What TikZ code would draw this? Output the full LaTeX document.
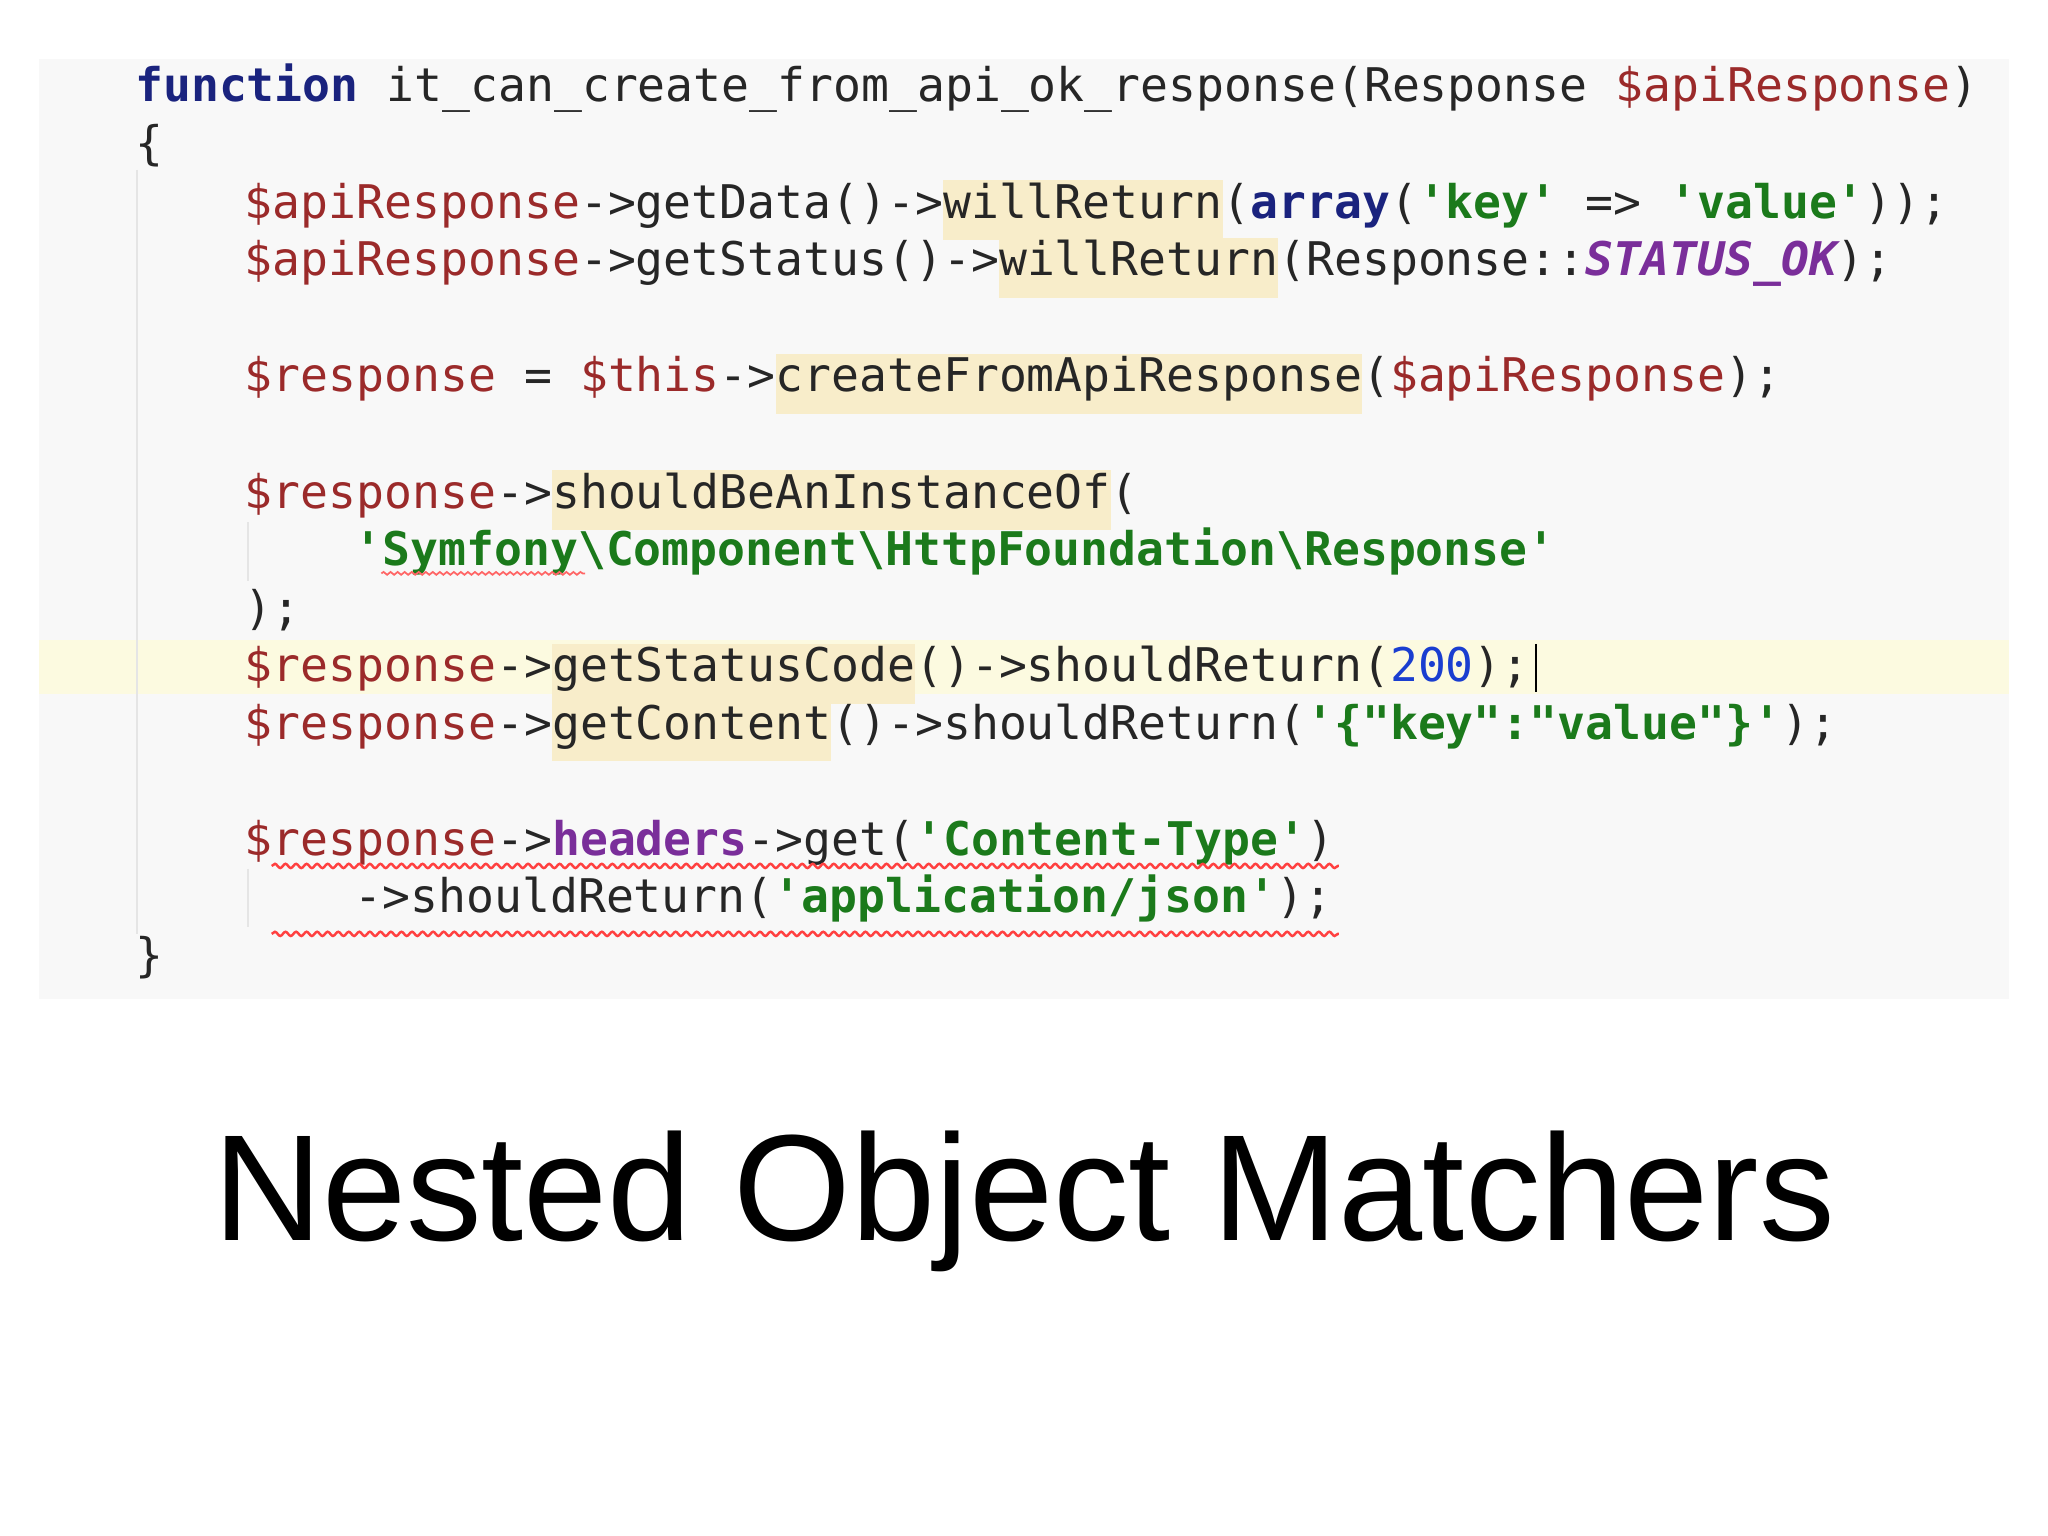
\documentclass[tikz,border=0pt]{standalone}
\usepackage{fontspec}
\setmainfont{Liberation Sans}
\setmonofont{DejaVu Sans Mono}
\usetikzlibrary{decorations.pathmorphing}
\definecolor{bgc}{HTML}{F8F8F8}
\definecolor{hlline}{HTML}{FCFAE0}
\definecolor{hly}{HTML}{F8EDCA}
\definecolor{varc}{HTML}{9B2A2A}
\definecolor{kwc}{HTML}{1A237E}
\definecolor{strc}{HTML}{1B7A1B}
\definecolor{cstc}{HTML}{7A2E9A}
\definecolor{numc}{HTML}{1A3ED0}
\newcommand{\kw}[1]{\textcolor{kwc}{\bfseries #1}}
\newcommand{\vr}[1]{\textcolor{varc}{#1}}
\newcommand{\str}[1]{\textcolor{strc}{\bfseries #1}}
\newcommand{\cst}[1]{\textcolor{cstc}{\bfseries\itshape #1}}
\newcommand{\hlt}[1]{{\setlength{\fboxsep}{0pt}\colorbox{hly}{\rule[-0.22cm]{0pt}{0.6cm}#1}}}
\tikzset{code/.style={anchor=base west,inner sep=0pt,font=\ttfamily\fontsize{13.2}{15}\selectfont,text=black!85}}
\begin{document}
\begin{tikzpicture}[x=0.013061cm,y=-0.013061cm]
\useasboundingbox (0,0) rectangle (1568,1176);
\fill[bgc] (30,45) rectangle (1538,765);
\fill[hlline] (30,490) rectangle (1538,531);
\draw[black!10] (105,130) -- (105,715);
\draw[black!10] (190,400) -- (190,445);
\draw[black!10] (190,665) -- (190,710);
\node[code] (l1) at (103,78) {\kw{function} it\_can\_create\_from\_api\_ok\_response(Response \vr{\$apiResponse})};
\node[code] (l2) at (103,122) {\{};
\node[code] (l3) at (187,167) {\vr{\$apiResponse}->getData()->\hlt{willReturn}(\kw{array}(\str{'key'} => \str{'value'}));};
\node[code] (l4) at (187,211) {\vr{\$apiResponse}->getStatus()->\hlt{willReturn}(Response::\cst{STATUS\_OK});};
\node[code] (l6) at (187,300) {\vr{\$response} = \vr{\$this}->\hlt{createFromApiResponse}(\vr{\$apiResponse});};
\node[code] (l8) at (187,389) {\vr{\$response}->\hlt{shouldBeAnInstanceOf}(};
\node[code] (l9) at (271,433) {\str{'Symfony\textbackslash Component\textbackslash HttpFoundation\textbackslash Response'}};
\node[code] (l10) at (187,478) {);};
\node[code] (l11) at (187,522) {\vr{\$response}->\hlt{getStatusCode}()->shouldReturn(\textcolor{numc}{200});};
\draw[black,line width=0.8pt] (1176,493) -- (1176,530);
\node[code] (l12) at (187,566) {\vr{\$response}->\hlt{getContent}()->shouldReturn(\str{'\{"key":"value"\}'});};
\node[code] (l14) at (187,655) {\vr{\$response}->\textcolor{cstc}{\bfseries headers}->get(\str{'Content-Type'})};
\node[code] (l15) at (271,699) {->shouldReturn(\str{'application/json'});};
\node[code] (l16) at (103,744) {\}};
\draw[red!75,line width=0.7pt,decorate,decoration={snake,amplitude=0.6pt,segment length=3pt}] (208,663) -- (1025,663);
\draw[red!75,line width=0.7pt,decorate,decoration={snake,amplitude=0.6pt,segment length=3pt}] (208,715) -- (1025,715);
\draw[red!60,line width=0.5pt,decorate,decoration={snake,amplitude=0.4pt,segment length=2pt}] (292,439) -- (448,439);
\node[anchor=center,inner sep=0pt] (title) at (784,920) {\resizebox{16.22cm}{!}{\fontsize{40}{48}\selectfont Nested Object Matchers}};
\end{tikzpicture}
\end{document}
